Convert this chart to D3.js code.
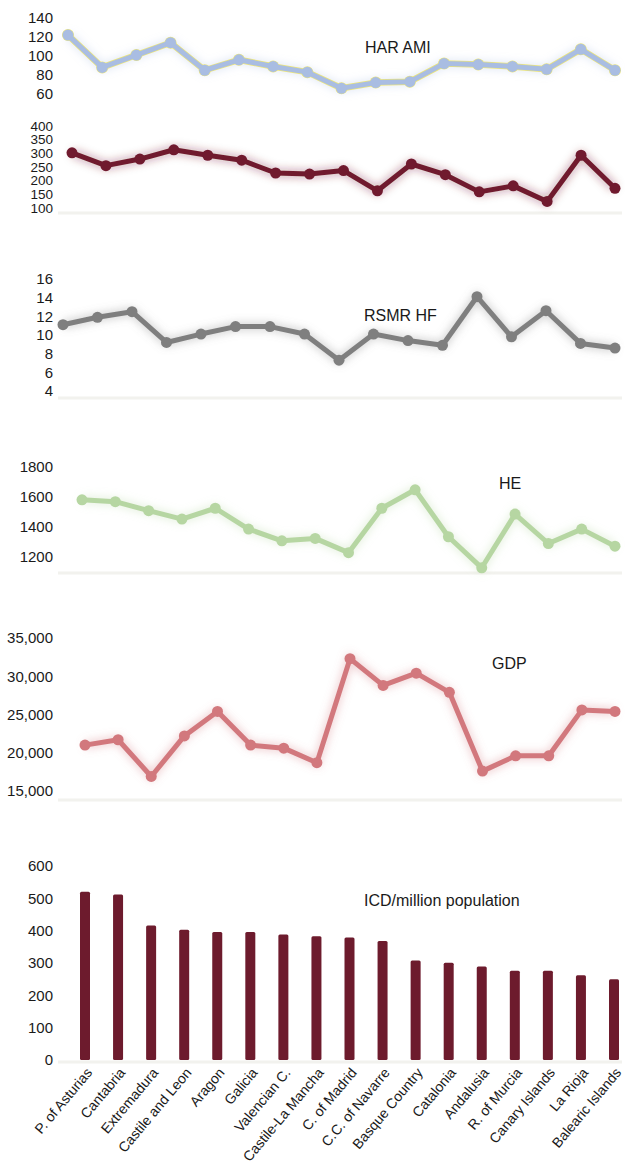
<!DOCTYPE html>
<html>
<head>
<meta charset="utf-8">
<script src="https://cdn.jsdelivr.net/npm/d3@7"></script>
<style>
  body { margin: 0; background: #fff; }
  text { font-family: "Liberation Sans", Arial, Helvetica, sans-serif; fill: #1a1a1a; }
</style>
</head>
<body>
<div id="chart"></div>
<script>

// data
var regions = ["P. of Asturias", "Cantabria", "Extremadura", "Castile and Leon", "Aragon", "Galicia",
    "Valencian C.", "Castile-La Mancha", "C. of Madrid", "C.C. of Navarre", "Basque Country",
    "Catalonia", "Andalusia", "R. of Murcia", "Canary Islands", "La Rioja", "Balearic Islands"];

var harAmi = [122, 88, 101, 114, 85, 96, 89, 83, 66, 72, 73, 92, 91, 89, 86, 107, 85];
var rsmrAmi = [302, 255, 279, 313, 293, 275, 228, 224, 237, 163, 261, 222, 159, 181, 124, 293, 172];
var rsmrHf = [11.1, 11.9, 12.5, 9.2, 10.1, 10.9, 10.9, 10.1, 7.3, 10.1, 9.4, 8.9, 14.1, 9.8, 12.6, 9.1, 8.6];
var he = [1581, 1569, 1509, 1453, 1525, 1386, 1308, 1324, 1229, 1525, 1648, 1335, 1128, 1486, 1290, 1386, 1272];
var gdp = [21000, 21700, 16900, 22200, 25400, 21000, 20600, 18700, 32300, 28800, 30400, 27900, 17600, 19600, 19600, 25600, 25400];
var icd = [520, 512, 416, 403, 396, 396, 388, 383, 379, 368, 308, 301, 289, 276, 276, 262, 250];

var ticksHar = [60, 80, 100, 120, 140];
var ticksRsmrAmi = [100, 150, 200, 250, 300, 350, 400];
var ticksHf = [4, 6, 8, 10, 12, 14, 16];
var ticksHe = [1200, 1400, 1600, 1800];
var ticksGdp = [15000, 20000, 25000, 30000, 35000];
var ticksIcd = [0, 100, 200, 300, 400, 500, 600];

var W = 625, H = 1174;

var svg = d3.select("#chart")
    .append("svg")
    .attr("width", W)
    .attr("height", H);

// soft glow behind the lines
var defs = svg.append("defs");
defs.append("filter")
    .attr("id", "glow")
    .attr("x", "-5%").attr("y", "-30%").attr("width", "110%").attr("height", "160%")
    .append("feGaussianBlur")
    .attr("stdDeviation", 4);

var panels = [
    { values: harAmi, ticks: ticksHar, title: "HAR AMI", color: "#a9bde2", edge: "#ece57a",
      y: [94, 18], x: [68, 615], tx: 365, ty: 53, base: null, fs: 15 },
    { values: rsmrAmi, ticks: ticksRsmrAmi, title: "", color: "#701a2e", edge: null,
      y: [208, 126], x: [72, 615], tx: 0, ty: 0, base: 213, fs: 13.5 },
    { values: rsmrHf, ticks: ticksHf, title: "RSMR HF", color: "#7f7f7f", edge: null,
      y: [391, 279], x: [63, 615], tx: 364, ty: 321, base: 398, fs: 15 },
    { values: he, ticks: ticksHe, title: "HE", color: "#b6d6a2", edge: null,
      y: [557, 467], x: [82, 615], tx: 499, ty: 489, base: 573, fs: 15 },
    { values: gdp, ticks: ticksGdp, title: "GDP", color: "#d2787d", edge: null,
      y: [791, 638], x: [85, 615], tx: 492, ty: 669, base: 800, fs: 15 }
];

panels.forEach(function (p) {
    var g = svg.append("g");

    var x = d3.scalePoint().domain(regions).range(p.x);
    var y = d3.scaleLinear().domain(d3.extent(p.ticks)).range(p.y);

    if (p.base) {
        g.append("line")
            .attr("x1", 58).attr("x2", 622)
            .attr("y1", p.base).attr("y2", p.base)
            .attr("stroke", "#f2f2ee").attr("stroke-width", 3);
    }

    // y axis labels only
    var ax = g.append("g")
        .attr("transform", "translate(56,0)")
        .call(d3.axisLeft(y).tickValues(p.ticks).tickSize(0).tickPadding(3)
            .tickFormat(p.values === gdp ? d3.format(",") : d3.format("d")));
    ax.select(".domain").remove();
    ax.selectAll("text").style("font-size", p.fs + "px").attr("fill", "#1a1a1a");

    var line = d3.line()
        .x(function (d, i) { return x(regions[i]) })
        .y(function (d) { return y(d) });

    g.append("path")
        .datum(p.values)
        .attr("d", line)
        .attr("fill", "none")
        .attr("stroke", p.color)
        .attr("stroke-opacity", 0.35)
        .attr("stroke-width", 8)
        .attr("filter", "url(#glow)");

    if (p.edge) {
        g.append("path")
            .datum(p.values)
            .attr("d", line)
            .attr("fill", "none")
            .attr("stroke", p.edge)
            .attr("stroke-width", 6.5)
            .attr("stroke-linejoin", "round");
        g.selectAll("circle.edge")
            .data(p.values)
            .join("circle")
            .attr("class", "edge")
            .attr("cx", function (d, i) { return x(regions[i]) })
            .attr("cy", function (d) { return y(d) })
            .attr("r", 6)
            .attr("fill", p.edge);
    }

    g.append("path")
        .datum(p.values)
        .attr("d", line)
        .attr("fill", "none")
        .attr("stroke", p.color)
        .attr("stroke-width", 5)
        .attr("stroke-linejoin", "round");

    g.selectAll("circle.pt")
        .data(p.values)
        .join("circle")
        .attr("class", "pt")
        .attr("cx", function (d, i) { return x(regions[i]) })
        .attr("cy", function (d) { return y(d) })
        .attr("r", 5.5)
        .attr("fill", p.color);

    if (p.title) {
        g.append("text")
            .attr("x", p.tx)
            .attr("y", p.ty)
            .style("font-size", "16px")
            .text(p.title);
    }
});

// bar chart at the bottom
var xb = d3.scalePoint().domain(regions).range([85, 614]);
var yb = d3.scaleLinear().domain([0, 600]).range([1060, 866]);

var gb = svg.append("g");

gb.append("line")
    .attr("x1", 58).attr("x2", 622)
    .attr("y1", 1062).attr("y2", 1062)
    .attr("stroke", "#f2f2ee").attr("stroke-width", 3);

var axb = gb.append("g")
    .attr("transform", "translate(56,0)")
    .call(d3.axisLeft(yb).tickValues(ticksIcd).tickSize(0).tickPadding(3));
axb.select(".domain").remove();
axb.selectAll("text").style("font-size", "15px").attr("fill", "#1a1a1a");

gb.selectAll("rect")
    .data(icd)
    .join("rect")
    .attr("x", function (d, i) { return xb(regions[i]) - 5 })
    .attr("y", function (d) { return yb(d) })
    .attr("width", 10)
    .attr("height", function (d) { return yb(0) - yb(d) })
    .attr("rx", 1.5)
    .attr("fill", "#6d1b2d");

gb.selectAll("text.cat")
    .data(regions)
    .join("text")
    .attr("class", "cat")
    .attr("text-anchor", "end")
    .attr("transform", function (d) { return "translate(" + (xb(d) + 8) + ",1073) rotate(-50)" })
    .style("font-size", "14px")
    .text(function (d) { return d });

gb.append("text")
    .attr("x", 364)
    .attr("y", 906)
    .style("font-size", "16px")
    .text("ICD/million population");

</script>
</body>
</html>
